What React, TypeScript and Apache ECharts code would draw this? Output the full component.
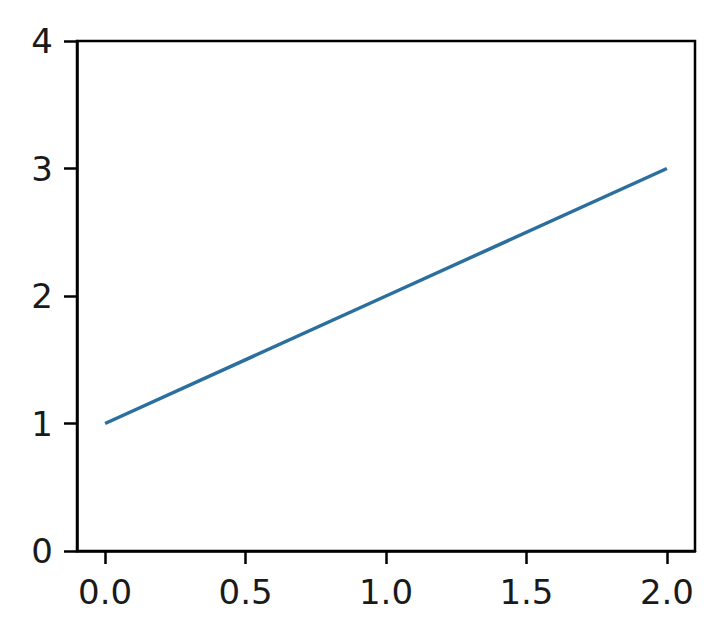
import React, { useEffect, useRef } from "react";
import * as echarts from "echarts";

const xValues = [0, 1, 2];
const yValues = [1, 2, 3];
const xTicks = [0, 0.5, 1, 1.5, 2];

export default function App() {
  const ref = useRef<HTMLDivElement>(null);
  useEffect(() => {
    if (!ref.current) return;
    const chart = echarts.init(ref.current, null, { renderer: "svg" });
    const font = "DejaVu Sans";
    chart.setOption({
      animation: false,
      backgroundColor: "#ffffff",
      grid: {
        left: 77,
        right: 25,
        top: 41,
        bottom: 89,
        show: true,
        borderColor: "#000",
        borderWidth: 2.5,
        containLabel: false,
      },
      xAxis: {
        type: "value",
        min: -0.1,
        max: 2.1,
        splitLine: { show: false },
        axisLine: { onZero: false, lineStyle: { color: "#000", width: 2.5 } },
        axisTick: {
          show: true,
          length: 13,
          customValues: xTicks,
          lineStyle: { color: "#000", width: 2.5 },
        },
        axisLabel: {
          customValues: xTicks,
          formatter: (v: number) => v.toFixed(1),
          color: "#1a1a1a",
          fontFamily: font,
          fontSize: 34,
          margin: 24,
        },
      },
      yAxis: {
        type: "value",
        min: 0,
        max: 4,
        interval: 1,
        splitLine: { show: false },
        axisLine: { show: true, onZero: false, lineStyle: { color: "#000", width: 2.5 } },
        axisTick: { show: true, length: 13, lineStyle: { color: "#000", width: 2.5 } },
        axisLabel: {
          color: "#1a1a1a",
          fontFamily: font,
          fontSize: 34,
          margin: 24,
        },
      },
      series: [
        {
          type: "line",
          data: xValues.map((x, i) => [x, yValues[i]]),
          showSymbol: false,
          lineStyle: { color: "#2b6f9e", width: 3.5 },
        },
      ],
    });
    return () => chart.dispose();
  }, []);
  return (
    <div
      ref={ref}
      style={{ position: "fixed", left: 0, top: 0, width: 720, height: 640 }}
    />
  );
}
